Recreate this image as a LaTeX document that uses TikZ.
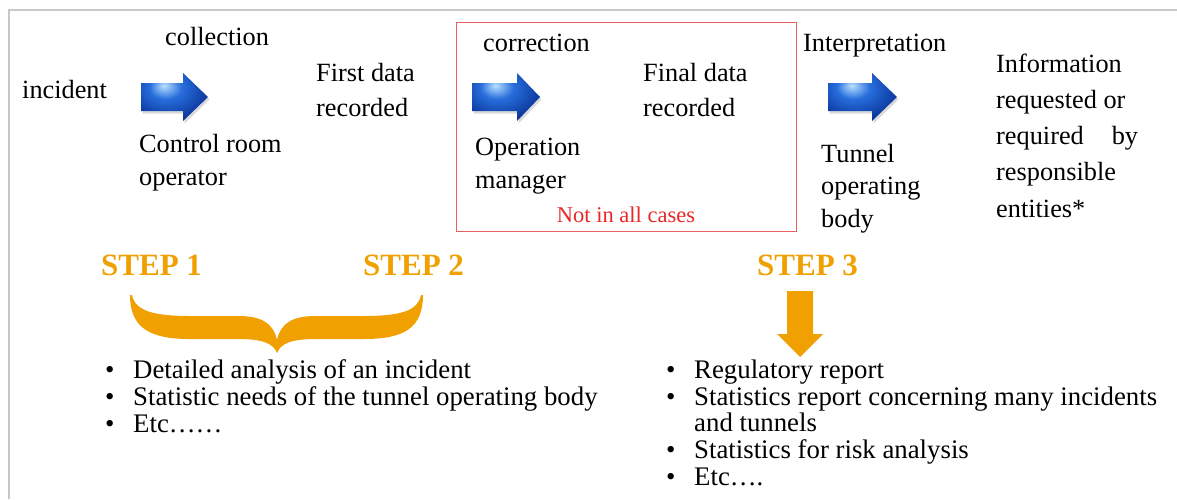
\documentclass[tikz,border=0pt]{standalone}
\usepackage{fontspec}
\setmainfont{Liberation Serif}
\usetikzlibrary{shadows}
\definecolor{stepor}{RGB}{240,160,0}
\definecolor{framegray}{RGB}{200,200,200}
\definecolor{boxred}{RGB}{232,96,96}
\definecolor{txtred}{RGB}{230,40,40}
\definecolor{arrowlight}{RGB}{185,225,255}
\definecolor{arrowmid}{RGB}{40,110,220}
\definecolor{arrowdark}{RGB}{8,50,150}
\pgfdeclareradialshading{bluearrow}{\pgfpoint{-8bp}{12bp}}{color(0bp)=(arrowlight); color(12bp)=(arrowmid); color(32bp)=(arrowdark); color(70bp)=(arrowdark)}
\tikzset{
  lbl/.style={inner sep=0pt, anchor=base west, align=left, font=\fontsize{26.3}{35}\selectfont},
  steplbl/.style={inner sep=0pt, anchor=base west, text=stepor, font=\fontsize{31}{31}\selectfont\bfseries},
  bullets/.style={inner sep=0pt, anchor=base west, align=left, font=\fontsize{26.8}{26.6}\selectfont},
  blueshape/.style={drop shadow={opacity=0.3, shadow xshift=1.5pt, shadow yshift=-2.5pt}, shading=bluearrow},
}
\newcommand{\bl}{\makebox[29pt][l]{\hspace{1pt}•}}
\begin{document}
\begin{tikzpicture}[x=1pt, y=-1pt]
\useasboundingbox (0,0) rectangle (1177,499);
% frame lines
\draw[framegray, line width=1.5pt] (9,499) -- (9,10) -- (1177,10);
% red box
\draw[boxred, line width=1pt] (456,22) rectangle (796,231);

% blue arrows
\begin{scope}[shift={(141,97)}]
  \path[blueshape] (0,-14) -- (42,-14) -- (42,-24) -- (67,0) -- (42,24) -- (42,14) -- (0,14) -- cycle;
\end{scope}
\begin{scope}[shift={(472,97)}]
  \path[blueshape] (0,-14) -- (45,-14) -- (45,-24) -- (68,0) -- (45,24) -- (45,14) -- (0,14) -- cycle;
\end{scope}
\begin{scope}[shift={(828,97)}]
  \path[blueshape] (0,-14) -- (44,-14) -- (44,-24) -- (69,0) -- (44,24) -- (44,14) -- (0,14) -- cycle;
\end{scope}

% top labels (multi-line nodes: base anchor = last line's baseline)
\node[lbl] (incident) at (22,98) {incident};
\node[lbl] (collection) at (165,45) {collection};
\node[lbl, font=\fontsize{26.3}{33}\selectfont] (ctrl) at (139,185) {Control room\\operator};
\node[lbl] (first) at (316,116) {First data\\recorded};
\node[lbl] (correction) at (483,51) {correction};
\node[lbl] (final) at (643,116) {Final data\\recorded};
\node[lbl, font=\fontsize{26.3}{33}\selectfont] (opman) at (475,188) {Operation\\manager};
\node[inner sep=0pt, anchor=base, text=txtred, font=\fontsize{22.5}{22.5}\selectfont] (notall) at (626,222) {Not in all cases};
\node[lbl] (interp) at (803,51) {Interpretation};
\node[lbl, font=\fontsize{26.3}{32.5}\selectfont] (tob) at (821,227) {Tunnel\\operating\\body};
\node[lbl, font=\fontsize{26.3}{36.2}\selectfont] (info) at (996,217) {Information\\requested or\\required\hspace{28pt}by\\responsible\\entities*};

% steps
\node[steplbl] (step1) at (101,275) {STEP 1};
\node[steplbl] (step2) at (363,275) {STEP 2};
\node[steplbl] (step3) at (757,275) {STEP 3};

% brace
\fill[stepor] (130,295)
  .. controls (130,328) and (150,339) .. (190,339)
  -- (238,339)
  .. controls (262,339) and (273,343) .. (277,353)
  .. controls (281,343) and (292,339) .. (316,339)
  -- (364,339)
  .. controls (404,339) and (423,328) .. (423,295)
  -- (421,295)
  .. controls (418,311) and (400,316) .. (364,316)
  -- (316,316)
  .. controls (294,316) and (281,322) .. (277,340)
  .. controls (273,322) and (260,316) .. (238,316)
  -- (190,316)
  .. controls (154,316) and (135,311) .. (132,295)
  -- cycle;

% down arrow
\fill[stepor] (787,291) -- (813,291) -- (813,334) -- (823,334) -- (800,357) -- (777,334) -- (787,334) -- cycle;

% bullet lists
\node[bullets] (list1) at (104,432) {\bl Detailed analysis of an incident\\\bl Statistic needs of the tunnel operating body\\\bl Etc……};
\node[bullets] (list2) at (665,485) {\bl Regulatory report\\\bl Statistics report concerning many incidents\\\hspace*{29pt}and tunnels\\\bl Statistics for risk analysis\\\bl Etc….};
\end{tikzpicture}
\end{document}
